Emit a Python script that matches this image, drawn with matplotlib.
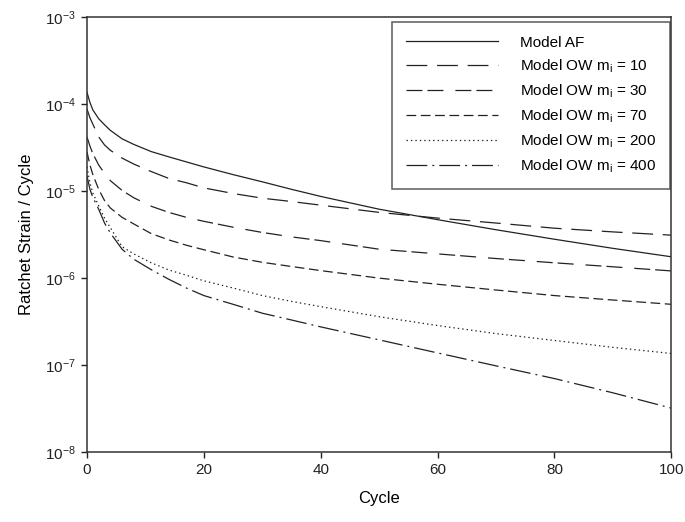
import matplotlib
matplotlib.use("Agg")
import matplotlib.pyplot as plt
from matplotlib.ticker import NullLocator, LogFormatterMathtext

plt.rcParams['font.family'] = ['Liberation Sans', 'DejaVu Sans']
plt.rcParams['mathtext.fontset'] = 'custom'
plt.rcParams['mathtext.rm'] = 'Liberation Sans'
plt.rcParams['mathtext.it'] = 'Liberation Sans'
plt.rcParams['lines.scale_dashes'] = False

# DATA
cycle = [0, 0.5, 1, 2, 3, 4, 6, 8, 11, 14, 17, 20, 25, 30, 35, 40, 50, 60, 70, 80, 90, 100]
model_af = [1.37e-4, 1.05e-4, 8.6e-5, 6.8e-5, 5.8e-5, 5.0e-5, 4.0e-5, 3.45e-5, 2.85e-5, 2.48e-5, 2.17e-5,
            1.9e-5, 1.55e-5, 1.28e-5, 1.05e-5, 8.7e-6, 6.2e-6, 4.7e-6, 3.6e-6, 2.8e-6, 2.2e-6, 1.76e-6]
ow_10 = [8.8e-5, 7.0e-5, 5.9e-5, 4.2e-5, 3.4e-5, 2.95e-5, 2.4e-5, 2.05e-5, 1.68e-5, 1.4e-5, 1.25e-5,
         1.09e-5, 9.4e-6, 8.3e-6, 7.6e-6, 6.9e-6, 5.7e-6, 4.9e-6, 4.3e-6, 3.75e-6, 3.4e-6, 3.12e-6]
ow_30 = [4.2e-5, 3.3e-5, 2.7e-5, 2.0e-5, 1.6e-5, 1.32e-5, 1.02e-5, 8.4e-6, 6.7e-6, 5.7e-6, 5.0e-6,
         4.5e-6, 3.85e-6, 3.35e-6, 2.98e-6, 2.7e-6, 2.15e-6, 1.9e-6, 1.68e-6, 1.5e-6, 1.35e-6, 1.21e-6]
ow_70 = [2.83e-5, 2.0e-5, 1.55e-5, 1.05e-5, 7.8e-6, 6.4e-6, 5.0e-6, 4.2e-6, 3.25e-6, 2.75e-6, 2.39e-6,
         2.12e-6, 1.75e-6, 1.52e-6, 1.36e-6, 1.22e-6, 1.0e-6, 8.5e-7, 7.3e-7, 6.3e-7, 5.6e-7, 5.0e-7]
ow_200 = [1.9e-5, 1.25e-5, 9.5e-6, 6.8e-6, 4.9e-6, 3.8e-6, 2.3e-6, 1.9e-6, 1.5e-6, 1.24e-6, 1.08e-6,
          9.3e-7, 7.7e-7, 6.3e-7, 5.4e-7, 4.7e-7, 3.6e-7, 2.85e-7, 2.3e-7, 1.92e-7, 1.6e-7, 1.36e-7]
ow_400 = [1.5e-5, 1.05e-5, 8.5e-6, 6.2e-6, 4.3e-6, 3.3e-6, 2.15e-6, 1.65e-6, 1.25e-6, 9.7e-7, 7.7e-7,
          6.3e-7, 5.0e-7, 3.95e-7, 3.3e-7, 2.75e-7, 1.95e-7, 1.38e-7, 9.8e-8, 7.0e-8, 4.8e-8, 3.2e-8]

labels = ["Model AF",
          r"Model OW m$_\mathregular{i}$ = 10",
          r"Model OW m$_\mathregular{i}$ = 30",
          r"Model OW m$_\mathregular{i}$ = 70",
          r"Model OW m$_\mathregular{i}$ = 200",
          r"Model OW m$_\mathregular{i}$ = 400"]

styles = ['-',
          (0, (15, 7)),
          (0, (11.5, 3.6, 11.5, 8.6)),
          (0, (7, 3.3)),
          (0, (1, 2.2)),
          (0, (15, 3.6, 1.4, 3.6))]

fig = plt.figure(figsize=(6.85, 5.22), dpi=100)
ax = fig.add_axes([0.127, 0.134, 0.853, 0.833])

line_color = '#222222'
for ys, ls, lab in zip([model_af, ow_10, ow_30, ow_70, ow_200, ow_400], styles, labels):
    ax.plot(cycle, ys, color=line_color, lw=0.9, linestyle=ls, label=lab)

ax.set_yscale('log')
ax.set_ylim(1e-8, 1e-3)
ax.set_xlim(0, 100)
ax.set_xticks([0, 20, 40, 60, 80, 100])
ax.yaxis.set_major_formatter(LogFormatterMathtext())
ax.yaxis.set_minor_locator(NullLocator())

for sp in ax.spines.values():
    sp.set_linewidth(1.1)
    sp.set_color('#333333')
ax.tick_params(direction='out', length=4, width=1.0, labelsize=11, colors='#222222', pad=4)

ax.set_xlabel("Cycle", fontsize=12, labelpad=10)
ax.set_ylabel("Ratchet Strain / Cycle", fontsize=12, labelpad=8)

leg = ax.legend(loc='upper right', bbox_to_anchor=(0.997, 0.989), fontsize=11,
                frameon=True, fancybox=False, handlelength=6.0, handletextpad=1.45,
                labelspacing=0.5, borderpad=0.9, borderaxespad=0)
leg.get_frame().set_edgecolor('#333333')
leg.get_frame().set_linewidth(1.1)

fig.savefig("out.png", dpi=100)
